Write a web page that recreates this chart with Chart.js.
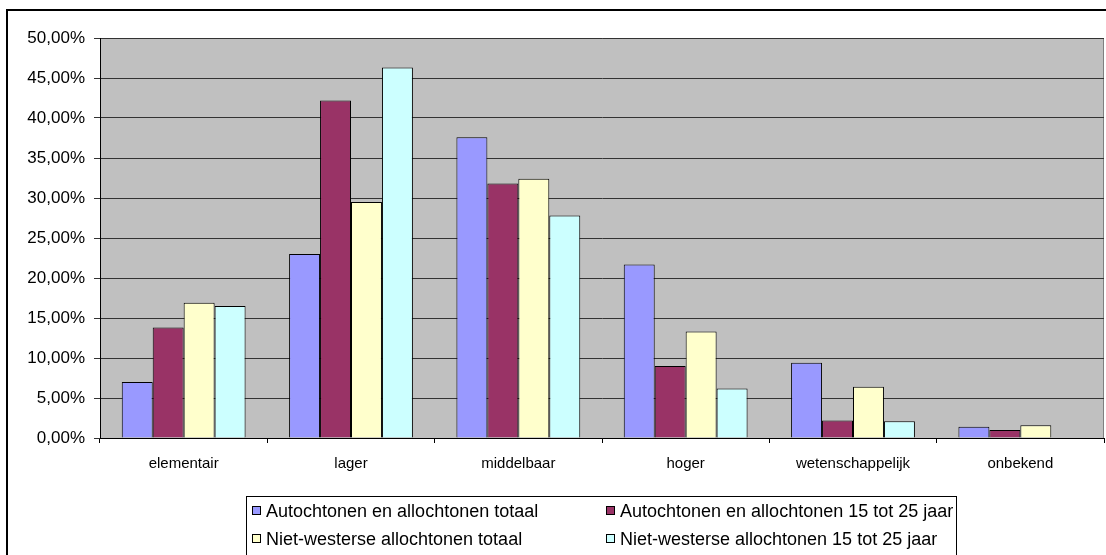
<!DOCTYPE html>
<html>
<head>
<meta charset="utf-8">
<script src="https://cdn.jsdelivr.net/npm/chart.js@4/dist/chart.umd.min.js"></script>
<style>
  html, body { margin: 0; padding: 0; background: #fff; }
  #wrap { width: 1106px; height: 555px; position: relative; }
</style>
</head>
<body>
<div id="wrap"><canvas id="grafiek"></canvas></div>
<script>
const categorieen = ['elementair', 'lager', 'middelbaar', 'hoger', 'wetenschappelijk', 'onbekend'];

const autoTotaal = [7.0, 23.0, 37.6, 21.7, 9.4, 1.4];
const auto15tot25 = [13.8, 42.2, 31.8, 9.0, 2.2, 1.0];
const nwTotaal = [16.9, 29.5, 32.4, 13.3, 6.4, 1.6];
const nw15tot25 = [16.5, 46.3, 27.8, 6.2, 2.1, null];

const reeksNamen = [
  'Autochtonen en allochtonen totaal',
  'Autochtonen en allochtonen 15 tot 25 jaar',
  'Niet-westerse allochtonen totaal',
  'Niet-westerse allochtonen 15 tot 25 jaar'
];
const kleuren = ['#9999FF', '#993366', '#FFFFCC', '#CCFFFF'];

const FONT = 'Liberation Sans, Arial, sans-serif';

// achtergrond, kader en grijs plotvlak
const achtergrond = {
  id: 'achtergrond',
  beforeDraw(chart) {
    const c = chart.ctx;
    const a = chart.chartArea;
    c.save();
    c.fillStyle = '#fff';
    c.fillRect(0, 0, chart.width, chart.height);
    c.strokeStyle = '#000';
    c.lineWidth = 2;
    c.strokeRect(7, 10, chart.width + 10, chart.height + 10);
    c.fillStyle = '#C0C0C0';
    c.fillRect(a.left, a.top, a.right - a.left, a.bottom - a.top);
    c.strokeStyle = '#808080';
    c.lineWidth = 1;
    c.strokeRect(a.left + 0.5, a.top + 0.5, a.right - a.left - 1, a.bottom - a.top);
    c.restore();
  }
};

// legenda in 2 kolommen met kader
const legenda = {
  id: 'legenda',
  afterDraw(chart) {
    const c = chart.ctx;
    c.save();
    c.strokeStyle = '#000';
    c.lineWidth = 1;
    c.strokeRect(246.5, 496.5, 710, 80);
    c.font = '18px ' + FONT;
    c.textBaseline = 'middle';
    const kolX = [252, 606];
    const rijY = [511, 539];
    chart.data.datasets.forEach((ds, i) => {
      const x = kolX[i % 2];
      const y = rijY[Math.floor(i / 2)];
      c.fillStyle = ds.backgroundColor;
      c.fillRect(x + 0.5, y - 4.5, 8, 8);
      c.strokeStyle = '#000';
      c.strokeRect(x + 0.5, y - 4.5, 8, 8);
      c.fillStyle = '#000';
      c.fillText(ds.label, x + 14, y + 1);
    });
    c.restore();
  }
};

const reeksen = [autoTotaal, auto15tot25, nwTotaal, nw15tot25];

new Chart(document.getElementById('grafiek'), {
  type: 'bar',
  data: {
    labels: categorieen,
    datasets: reeksen.map((d, i) => ({
      label: reeksNamen[i],
      data: d,
      backgroundColor: kleuren[i],
      borderColor: '#000',
      borderWidth: 1,
      categoryPercentage: 0.74,
      barPercentage: 1
    }))
  },
  options: {
    responsive: true,
    maintainAspectRatio: false,
    animation: false,
    layout: { padding: { top: 38, right: 2, left: 0, bottom: 0 } },
    plugins: {
      legend: { display: false },
      tooltip: { enabled: false }
    },
    scales: {
      x: {
        afterFit(scale) { scale.height = 117; },
        grid: {
          drawOnChartArea: false,
          color: '#000',
          tickLength: 5,
          offset: true
        },
        border: { color: '#000', width: 1 },
        ticks: {
          color: '#000',
          font: { family: FONT, size: 15 },
          padding: 12,
          maxRotation: 0
        }
      },
      y: {
        min: 0,
        max: 50,
        afterFit(scale) { scale.width = 100; },
        grid: {
          color: '#333',
          tickLength: 6
        },
        border: { color: '#000', width: 1 },
        ticks: {
          stepSize: 5,
          color: '#000',
          font: { family: FONT, size: 17 },
          padding: 9,
          callback: v => v.toFixed(2).replace('.', ',') + '%'
        }
      }
    }
  },
  plugins: [achtergrond, legenda]
});
</script>
</body>
</html>
